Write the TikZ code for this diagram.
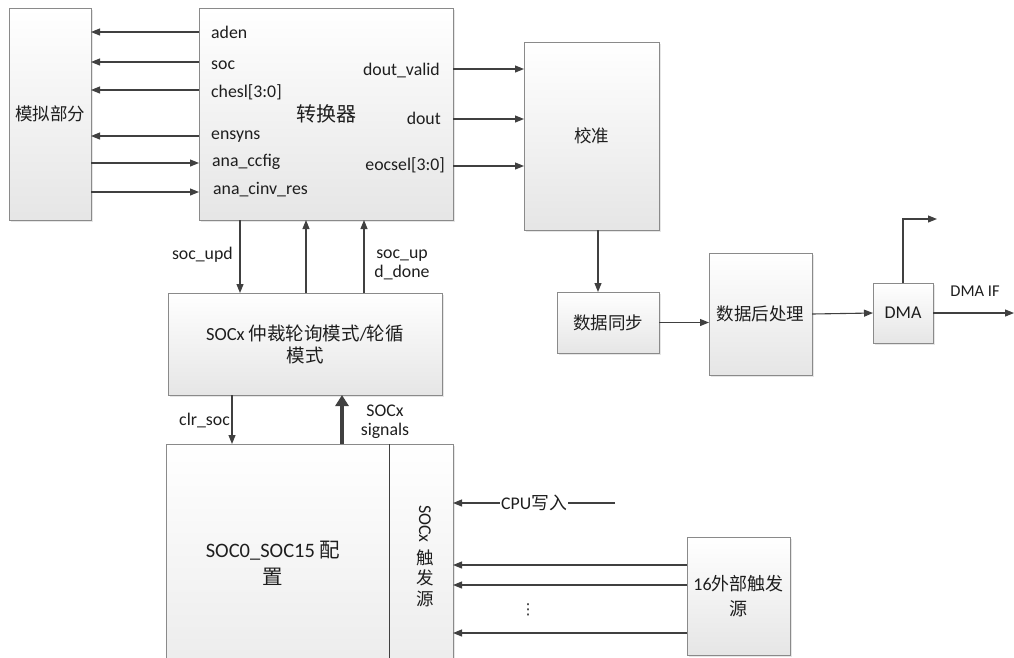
\documentclass[tikz,border=0pt]{standalone}
\usepackage{fontspec}
\setmainfont{Carlito}
\newfontfamily\cjk{Noto Sans CJK SC}
\newfontfamily\djv{DejaVu Sans}
\usetikzlibrary{arrows.meta,shadows,calc}
\newcommand\zh[1]{{\cjk #1}}
\definecolor{linec}{HTML}{404040}
\definecolor{boxc}{HTML}{8A8A8A}
\definecolor{txtc}{HTML}{1E1E1E}
\begin{document}
\begin{tikzpicture}[x=1pt,y=-1pt,
  box/.style={draw=boxc, line width=0.9pt, top color=white, bottom color=black!10,
    drop shadow={shadow xshift=1.5pt, shadow yshift=-1.5pt, opacity=0.2},
    anchor=north west, inner sep=0pt, outer sep=0pt, text=txtc,
    font=\fontsize{17.5}{22}\selectfont, align=center},
  lbl/.style={text=txtc, font=\fontsize{17.8}{19}\selectfont, inner sep=0pt},
  arr/.style={draw=linec, line width=1.1pt, -{Triangle[length=9pt,width=7pt]}},
  thickarr/.style={draw=linec, line width=4pt, -{Triangle[length=11pt,width=13pt]}},
]
\useasboundingbox (0,0) rectangle (1014,657);

% row / column helper coordinates
\coordinate (r1) at (0,32);
\coordinate (r2) at (0,62);
\coordinate (r3) at (0,90);
\coordinate (r4) at (0,136);
\coordinate (r5) at (0,163);
\coordinate (r6) at (0,192);
\coordinate (r7) at (0,69);
\coordinate (r8) at (0,119);
\coordinate (r9) at (0,166);
\coordinate (c240) at (240,0);
\coordinate (c306) at (306,0);
\coordinate (c364) at (364,0);
\coordinate (c232) at (232,0);
\coordinate (c342) at (342,0);
\coordinate (c389) at (389,0);
\coordinate (c598) at (598,0);
\coordinate (e1) at (0,565);
\coordinate (e2) at (0,585);
\coordinate (e3) at (0,633);

% boxes
\node[box, minimum width=82pt, minimum height=212pt] (ana) at (9,8) {\zh{模拟部分}};
\node[box, minimum width=254pt, minimum height=212pt] (conv) at (199,8) {\zh{\fontsize{20}{24}\selectfont 转换器}};
\node[box, minimum width=135pt, minimum height=188pt] (cal) at (524,42) {\zh{校准}};
\node[box, minimum width=102pt, minimum height=61pt] (sync) at (557,292) {\zh{数据同步}};
\node[box, minimum width=103pt, minimum height=122pt] (post) at (709,253) {\zh{数据后处理}};
\node[box, minimum width=60pt, minimum height=60pt, font=\fontsize{18}{22}\selectfont] (dma) at (873,283) {DMA};
\node[box, minimum width=274pt, minimum height=102pt, font=\fontsize{18.5}{22}\selectfont] (arb) at (168,293) {SOCx \zh{仲裁轮询模式}/\zh{轮循}\\\zh{模式}};
\node[box, minimum width=287pt, minimum height=300pt] (cfg) at (166,444) {};
\node[box, minimum width=103pt, minimum height=118pt, font=\fontsize{18}{25}\selectfont] (ext) at (687,537) {16\zh{外部触发}\\\zh{源}};

% converter labels
\node[lbl, anchor=base west] (aden) at (211,38) {aden};
\node[lbl, anchor=base west] (soc) at (211,69) {soc};
\node[lbl, anchor=base west] (chesl) at (211,97) {chesl[3:0]};
\node[lbl, anchor=base west] (ensyns) at (211,139) {ensyns};
\node[lbl, anchor=base west] (ccfig) at (212,166) {ana\_ccfig};
\node[lbl, anchor=base west] (cinv) at (213,194) {ana\_cinv\_res};
\node[lbl, anchor=base east] (dv) at (440,75) {dout\_valid};
\node[lbl, anchor=base east] (dout) at (441,124) {dout};
\node[lbl, anchor=base east] (eoc) at (445,170) {eocsel[3:0]};

% converter <-> analog
\draw[arr] (conv.west |- r1) -- (ana.east |- r1);
\draw[arr] (conv.west |- r2) -- (ana.east |- r2);
\draw[arr] (conv.west |- r3) -- (ana.east |- r3);
\draw[arr] (conv.west |- r4) -- (ana.east |- r4);
\draw[arr] (ana.east |- r5) -- (conv.west |- r5);
\draw[arr] (ana.east |- r6) -- (conv.west |- r6);

% converter -> calibration
\draw[arr] (conv.east |- r7) -- (cal.west |- r7);
\draw[arr] (conv.east |- r8) -- (cal.west |- r8);
\draw[arr] (conv.east |- r9) -- (cal.west |- r9);

% right chain
\draw[arr] (cal.south -| c598) -- (sync.north -| c598);
\draw[arr] (sync.east) -- (post.west |- sync.east);
\draw[arr] (post.east) -- (dma.west);
\coordinate (dmaup) at (937,219);
\draw[arr] (dma.north) |- (dmaup);
\coordinate (dmaif) at (1014,313);
\draw[arr] (dma.east) -- (dmaif);
\node[lbl, font=\fontsize{16.5}{18}\selectfont] (dmaiflbl) at (975,291) {DMA IF};

% converter <-> arbiter
\draw[arr] (conv.south -| c240) -- (arb.north -| c240);
\draw[arr] (arb.north -| c306) -- (conv.south -| c306);
\draw[arr] (arb.north -| c364) -- (conv.south -| c364);
\node[lbl, anchor=base east] (socupd) at (233,259) {soc\_upd};
\node[lbl, align=center] (socupddone) at (402,265) {soc\_up\\d\_done};

% arbiter <-> config
\draw[arr] (arb.south -| c232) -- (cfg.north -| c232);
\node[lbl, anchor=base east] (clrsoc) at (230,425) {clr\_soc};
\draw[thickarr] (cfg.north -| c342) -- (arb.south -| c342);
\node[lbl, align=center] (socxsig) at (385,422) {SOCx\\signals};

% config box inner parts
\draw[linec, line width=0.9pt] (cfg.north -| c389) -- (cfg.south -| c389);
\node[lbl, align=center, font=\fontsize{20.5}{27}\selectfont] (cfgtxt) at (273,563) {SOC0\_SOC15 \zh{配}\\\zh{置}};
\node[lbl, rotate=-90, font=\fontsize{18}{20}\selectfont] (vsocx) at (425,524) {SOCx};
\node[lbl, align=center, font=\fontsize{17.5}{20.5}\selectfont] (vzh) at (425,578) {\zh{触}\\\zh{发}\\\zh{源}};

% CPU write
\coordinate (cpu) at (615,503);
\draw[arr] (cpu) -- node[lbl, fill=white, inner xsep=1pt, inner ysep=2pt] (cpulbl) {CPU\zh{写入}} (cfg.east |- cpu);

% external triggers
\draw[arr] (ext.west |- e1) -- (cfg.east |- e1);
\draw[arr] (ext.west |- e2) -- (cfg.east |- e2);
\draw[arr] (ext.west |- e3) -- (cfg.east |- e3);
\node[lbl, font=\djv\fontsize{15}{18}\selectfont] (dots) at (528,610) {⋮};
\end{tikzpicture}
\end{document}
